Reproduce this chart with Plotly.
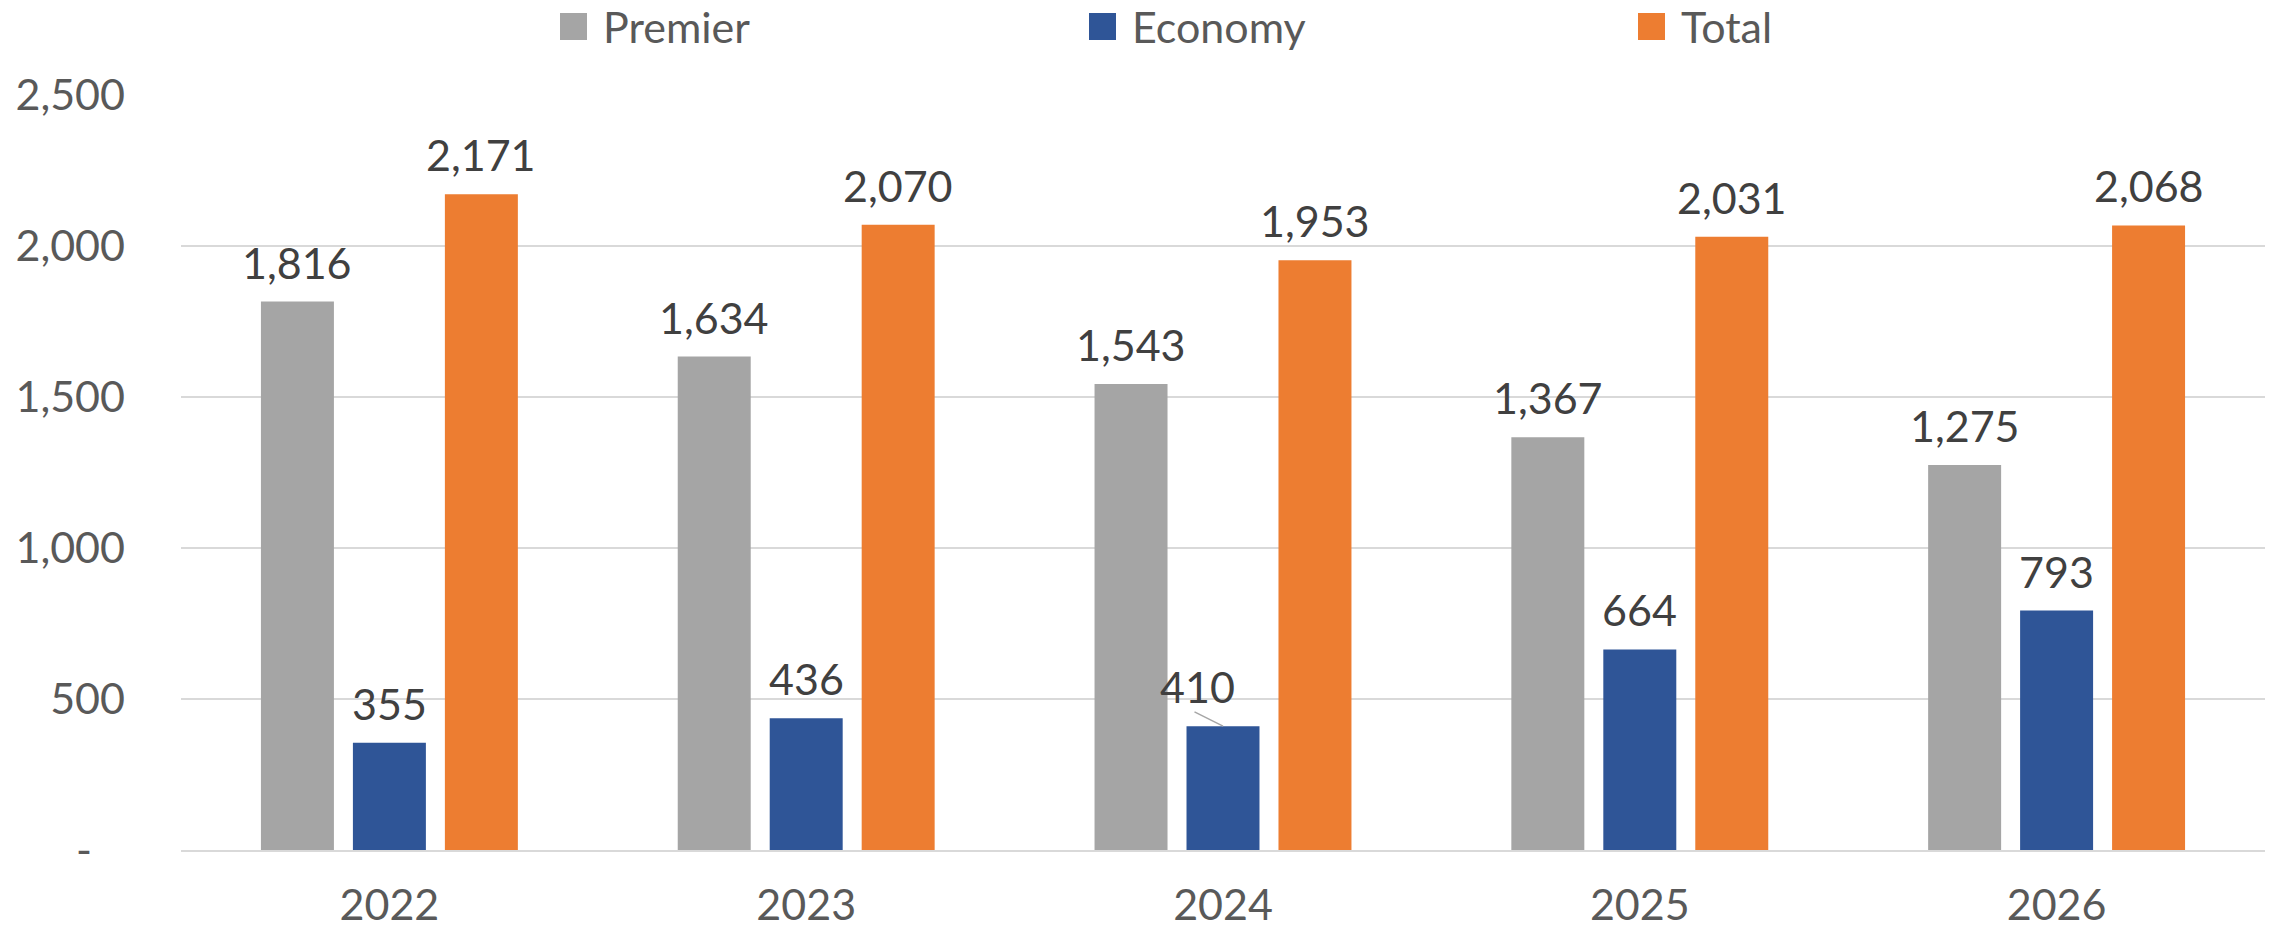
import plotly.graph_objects as go

# Data
years = ["2022", "2023", "2024", "2025", "2026"]
premier = [1816, 1634, 1543, 1367, 1275]
economy = [355, 436, 410, 664, 793]
total = [2171, 2070, 1953, 2031, 2068]

series_names = ["Premier", "Economy", "Total"]
series_values = [premier, economy, total]
series_colors = ["#A5A5A5", "#2F5597", "#ED7D31"]

y_ticks = [0, 500, 1000, 1500, 2000, 2500]
y_ticktext = ["-\u00a0\u00a0\u00a0", "500", "1,000", "1,500", "2,000", "2,500"]

# Canvas and plot-area geometry (pixels)
W, H = 2272, 934
M_L, M_R, M_T, M_B = 181, 7, 95, 84
PLOT_W = W - M_L - M_R
PLOT_H = H - M_T - M_B

FONT = "Lato, 'Open Sans', sans-serif"
FS = 43
BARGAP = 0.338
BARGROUPGAP = 0.2065
SLOT = (1 - BARGAP) / 3  # width of one bar slot in category units


def px_x(px):
    return (px - M_L) / PLOT_W


def px_y(py):
    return (H - M_B - py) / PLOT_H


fig = go.Figure()
for name, vals, col in zip(series_names, series_values, series_colors):
    fig.add_trace(go.Bar(
        name=name, x=years, y=vals, marker=dict(color=col, line=dict(width=0)),
        showlegend=False, hovertemplate="%{x}: %{y:,}<extra>" + name + "</extra>",
    ))

# Value labels above each bar
annotations = []
for k, vals in enumerate(series_values):
    for i, v in enumerate(vals):
        shifted = (k == 1 and years[i] == "2024")
        annotations.append(dict(
            x=i + (k - 1) * SLOT, y=v, xref="x", yref="y",
            text=f"{v:,}", showarrow=False, xanchor="center", yanchor="bottom",
            yshift=12, xshift=-26 if shifted else 0,
            font=dict(family=FONT, size=FS, color="#404040"),
        ))
        if shifted:
            # leader line from the moved label to the bar top
            annotations.append(dict(
                x=i + (k - 1) * SLOT, y=v, xref="x", yref="y", text="",
                showarrow=True, arrowhead=0, arrowwidth=1.5, arrowcolor="#A6A6A6",
                ax=-30, ay=-15, standoff=0, startstandoff=0,
            ))

# Legend: colour squares with labels across the top
legend_items = [(560, "Premier", series_colors[0]),
                (1089, "Economy", series_colors[1]),
                (1638, "Total", series_colors[2])]
shapes = []
SQ = 27
SQ_TOP = 13
for x0, label, col in legend_items:
    shapes.append(dict(
        type="rect", xref="paper", yref="paper",
        x0=px_x(x0), x1=px_x(x0 + SQ), y0=px_y(SQ_TOP + SQ), y1=px_y(SQ_TOP),
        fillcolor=col, line=dict(width=0),
    ))
    annotations.append(dict(
        x=px_x(x0 + SQ + 14), y=px_y(SQ_TOP + SQ / 2), xref="paper", yref="paper",
        text=label, showarrow=False, xanchor="left", yanchor="middle",
        font=dict(family=FONT, size=FS, color="#595959"),
    ))

fig.update_layout(
    width=W, height=H,
    margin=dict(l=M_L, r=M_R, t=M_T, b=M_B, pad=0, autoexpand=False),
    paper_bgcolor="white", plot_bgcolor="white",
    barmode="group", bargap=BARGAP, bargroupgap=BARGROUPGAP,
    showlegend=False,
    font=dict(family=FONT, size=FS, color="#595959"),
    annotations=annotations, shapes=shapes,
    xaxis=dict(
        type="category", showgrid=False, ticks="", zeroline=False,
        showline=True, linecolor="#D9D9D9", linewidth=2, automargin=False,
        tickfont=dict(family=FONT, size=FS, color="#595959"),
        ticklabelstandoff=16,
    ),
    yaxis=dict(
        range=[0, 2500], tickvals=y_ticks, ticktext=y_ticktext,
        showgrid=True, gridcolor="#D9D9D9", gridwidth=2, automargin=False,
        zeroline=False, showline=False, ticks="",
        tickfont=dict(family=FONT, size=FS, color="#595959"),
        ticklabelstandoff=55,
    ),
)

fig.write_html("out.html")
